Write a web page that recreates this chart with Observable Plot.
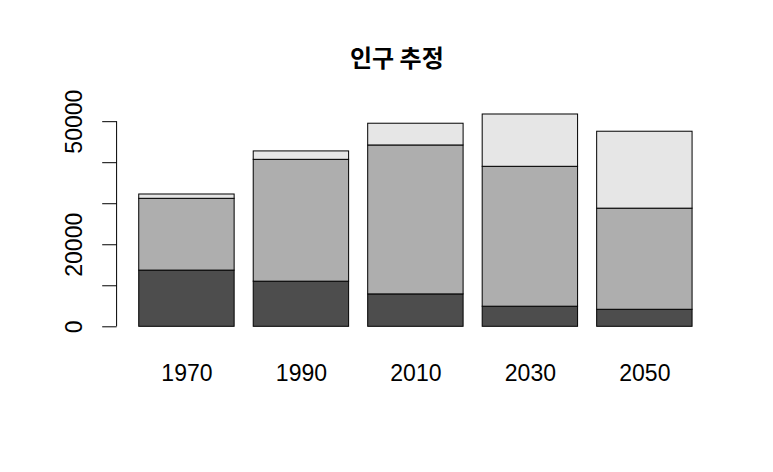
<!DOCTYPE html>
<html>
<head>
<meta charset="utf-8">
<script src="https://cdn.jsdelivr.net/npm/d3@7"></script>
<script src="https://cdn.jsdelivr.net/npm/@observablehq/plot@0.6"></script>
<style>
  html, body { margin: 0; padding: 0; background: #fff; }
  #chart svg { display: block; }
</style>
</head>
<body>
<div id="chart"></div>
<script>
// Data (thousands of people)
const years = ["1970", "1990", "2010", "2030", "2050"];
const groups = ["0-14", "15-64", "65+"];
const young = [13700, 11000, 7900, 4900, 4150];
const working = [17500, 29700, 36300, 34100, 24650];
const old = [1050, 2050, 5300, 12750, 18750];
const groupColors = ["#4D4D4D", "#AEAEAE", "#E6E6E6"];
const yTicks = [0, 10000, 20000, 30000, 40000, 50000];
const yTickLabels = [0, 20000, 50000];
const title = "인구 추정";

const series = [young, working, old];
const rows = [];
years.forEach((yr, i) => {
  groups.forEach((g, j) => rows.push({year: yr, group: g, value: series[j][i]}));
});

const maxTotal = d3.max(years.map((_, i) => young[i] + working[i] + old[i]));
const pad = maxTotal * 0.04;

const font = "'Liberation Sans', Arial, sans-serif";

function yAxisLine(index, scales, values, dims) {
  const y = scales.y;
  return d3.create("svg:line")
    .attr("x1", dims.marginLeft).attr("x2", dims.marginLeft)
    .attr("y1", y(yTicks[0])).attr("y2", y(yTicks[yTicks.length - 1]))
    .attr("stroke", "black")
    .node();
}

const chart = Plot.plot({
  width: 773,
  height: 472,
  marginLeft: 116.6,
  marginRight: 58.8,
  marginTop: 105.5,
  marginBottom: 137.2,
  style: {fontFamily: font, background: "#fff", color: "black"},
  x: {type: "band", domain: years, paddingInner: 0.2 / 1.2, paddingOuter: 0.232 / 1.2, round: false, align: 0.5, label: null},
  y: {domain: [-pad, maxTotal + pad], label: null},
  color: {domain: groups, range: groupColors},
  marks: [
    Plot.barY(rows, {x: "year", y: "value", fill: "group", stroke: "black", strokeWidth: 1, order: null}),
    Plot.axisY(yTicks, {tickSize: 14.4, tickFormat: () => "", strokeWidth: 1, label: null}),
    yAxisLine,
    Plot.text(yTickLabels, {y: d => d, text: d => String(d), frameAnchor: "left", dx: -42.6, rotate: -90, fontSize: 23, textAnchor: "middle", lineAnchor: "middle", fill: "black"}),
    Plot.axisX({tickSize: 0, tickPadding: 29, fontSize: 23, label: null, fill: "black"}),
    Plot.text([title], {frameAnchor: "top", dx: -19, dy: -56, fontSize: 24, fontWeight: "bold", fontFamily: "'Noto Sans CJK KR', sans-serif", fill: "black"})
  ]
});
document.getElementById("chart").appendChild(chart);
</script>
</body>
</html>
